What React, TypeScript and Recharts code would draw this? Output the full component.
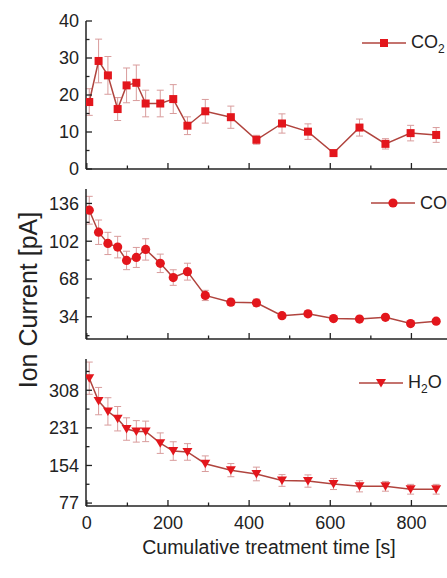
import React from 'react';
import { LineChart, Line, XAxis, YAxis, ErrorBar, Legend } from 'recharts';

// cumulative treatment time [s]
const TIME = [6, 29, 52, 76, 98, 122, 145, 181, 213, 248, 292, 355, 418, 481, 545, 608, 672, 736, 798, 861];

const CO2 = [18.1, 29.2, 25.3, 16.2, 22.6, 23.3, 17.7, 17.7, 18.9, 11.7, 15.6, 14.0, 7.9, 12.3, 10.1, 4.3, 11.2, 6.8, 9.7, 9.2];
const CO2_ERR = [3.6, 5.9, 5.1, 3.1, 4.7, 4.8, 3.6, 3.6, 3.9, 2.4, 3.2, 3.0, 1.2, 2.6, 2.1, 0.6, 2.3, 1.4, 2.1, 2.0];

const CO = [129.9, 110.1, 100, 96.7, 84.7, 87.4, 94.6, 82.1, 69.3, 74.6, 53.2, 47.1, 46.6, 35, 36.7, 32.4, 31.9, 33.5, 27.9, 30];
const CO_ERR = [12.5, 11, 10, 9.7, 8.3, 9, 9.6, 8.3, 7, 7.6, 4.6, 3, 3.3, 2.4, 2.6, 2, 2, 2, 2, 2];

const H2O = [332.7, 285.8, 264.7, 249.7, 228.6, 223.8, 223.8, 199.7, 183.5, 181.7, 157.6, 144.4, 136.6, 123.3, 122.1, 116.1, 111.3, 111.3, 105.3, 105.3];
const H2O_ERR = [33, 28, 28, 25, 23, 22, 21, 21, 19, 17, 16, 13.5, 14, 12, 12.6, 11.4, 11.4, 10, 10, 10];

const X_TICKS = [0, 100, 200, 300, 400, 500, 600, 700, 800, 900];
const X_LABELS = [0, 200, 400, 600, 800];

const CO2_TICKS = [0, 5, 10, 15, 20, 25, 30, 35, 40];
const CO2_LABELS = [0, 10, 20, 30, 40];
const CO_TICKS = [17, 34, 51, 68, 85, 102, 119, 136];
const CO_LABELS = [34, 68, 102, 136];
const H2O_TICKS = [77, 115.5, 154, 192.5, 231, 269.5, 308, 346.5];
const H2O_LABELS = [77, 154, 231, 308];

const rows = TIME.map((t, i) => ({
  t,
  co2: CO2[i], co2e: CO2_ERR[i],
  co: CO[i], coe: CO_ERR[i],
  h2o: H2O[i], h2oe: H2O_ERR[i],
}));

const FONT = '"Liberation Sans", Arial, sans-serif';
const AXIS = '#222';
const LINE = '#b0443e';
const MARK = '#e3161c';
const ERR = '#d99c9c';
const CHART_W = 452;
const PAD = 10;

const square = (cx: number, cy: number, key?: any) => (
  <rect key={key} x={cx - 4} y={cy - 4} width={8} height={8} fill={MARK} />
);
const circle = (cx: number, cy: number, key?: any) => (
  <circle key={key} cx={cx} cy={cy} r={4.6} fill={MARK} />
);
const triangle = (cx: number, cy: number, key?: any) => (
  <path key={key} d={`M${cx - 5},${cy - 4} L${cx + 5},${cy - 4} L${cx},${cy + 4.5} Z`} fill={MARK} />
);

const XTick = (props: any) => {
  const { x, y, payload, showLabel } = props;
  const v = payload.value;
  const major = v % 200 === 0;
  return (
    <g>
      <line x1={x} x2={x} y1={y} y2={y - (major ? 6 : 3.5)} stroke={AXIS} strokeWidth={1.3} />
      {showLabel && X_LABELS.includes(v) && (
        <text x={x} y={y + 23} textAnchor="middle" fontSize={18} fontFamily={FONT} fill={AXIS}>{v}</text>
      )}
    </g>
  );
};

const makeYTick = (labels: number[]) => (props: any) => {
  const { x, y, payload } = props;
  const major = labels.includes(payload.value);
  return (
    <g>
      <line x1={x} x2={x + (major ? 6 : 3.5)} y1={y} y2={y} stroke={AXIS} strokeWidth={1.3} />
      {major && (
        <text x={x - 7} y={y} dy={6.3} textAnchor="end" fontSize={18} fontFamily={FONT} fill={AXIS}>{payload.value}</text>
      )}
    </g>
  );
};

const LegendRow = ({ marker, label }: { marker: (cx: number, cy: number) => React.ReactNode; label: React.ReactNode }) => (
  <div style={{ display: 'flex', alignItems: 'center', height: 20, fontFamily: FONT, fontSize: 18, color: AXIS, whiteSpace: 'nowrap' }}>
    <svg width={44} height={12} style={{ display: 'block' }}>
      <line x1={0} x2={44} y1={6} y2={6} stroke={LINE} strokeWidth={1.5} />
      {marker(22, 6)}
    </svg>
    <span style={{ marginLeft: 5, lineHeight: '20px' }}>{label}</span>
  </div>
);

type PanelProps = {
  dataKey: string;
  errKey: string;
  top: number;
  bottom: number;
  domain: [number, number];
  ticks: number[];
  labels: number[];
  marker: (cx: number, cy: number, key?: any) => React.ReactElement;
  legend: React.ReactNode;
  legendLeft: number;
  legendY: number;
  last?: boolean;
  first?: boolean;
};

const Panel = (p: PanelProps) => {
  const xh = p.last ? 578 - p.bottom : PAD;
  const divTop = p.top - PAD;
  const h = p.bottom - p.top + PAD + xh;
  return (
    <div style={{ position: 'absolute', left: 0, top: divTop }}>
      <LineChart width={CHART_W} height={h} data={rows} margin={{ top: PAD, right: 0, bottom: 0, left: 0 }}>
        {p.first && (
          <XAxis xAxisId="top" orientation="top" type="number" dataKey="t" domain={[-2, 900]} allowDataOverflow
            height={0} tick={false} tickLine={false} axisLine={{ stroke: AXIS, strokeWidth: 1.5 }} />
        )}
        <XAxis
          type="number"
          dataKey="t"
          domain={[-2, 900]}
          allowDataOverflow
          ticks={X_TICKS}
          interval={0}
          height={xh}
          tickSize={0}
          tickMargin={0}
          tickLine={false}
          axisLine={{ stroke: AXIS, strokeWidth: 1.5 }}
          tick={<XTick showLabel={!!p.last} />}
          label={p.last ? {
            value: 'Cumulative treatment time [s]',
            position: 'insideBottom',
            offset: 4,
            style: { fontSize: 19.5, fontFamily: FONT, fill: AXIS },
          } : undefined}
        />
        <YAxis
          type="number"
          domain={p.domain}
          allowDataOverflow
          ticks={p.ticks}
          interval={0}
          width={86}
          tickSize={0}
          tickMargin={0}
          tickLine={false}
          axisLine={{ stroke: AXIS, strokeWidth: 1.5 }}
          tick={makeYTick(p.labels)}
        />
        <Line
          dataKey={p.dataKey}
          stroke={LINE}
          strokeWidth={1.5}
          isAnimationActive={false}
          dot={(d: any) => p.marker(d.cx, d.cy, d.index)}
          activeDot={false}
        >
          <ErrorBar dataKey={p.errKey} direction="y" width={3.5} stroke={ERR} strokeWidth={1} isAnimationActive={false} />
        </Line>
        <Legend
          wrapperStyle={{ position: 'absolute', left: p.legendLeft, top: p.legendY - 10 - divTop, width: 'auto' }}
          content={() => <LegendRow marker={p.marker} label={p.legend} />}
        />
      </LineChart>
    </div>
  );
};

const sub = (s: string) => (
  <span style={{ fontSize: 12, position: 'relative', top: 5 }}>{s}</span>
);

export default function App() {
  return (
    <div style={{ position: 'absolute', left: 0, top: 0, width: 447, height: 578, overflow: 'hidden', background: '#fff' }}>
      <Panel first dataKey="co2" errKey="co2e" top={21} bottom={189} domain={[0, 40]} ticks={CO2_TICKS} labels={CO2_LABELS}
        marker={square} legend={<>CO{sub('2')}</>} legendLeft={362} legendY={43} />
      <Panel dataKey="co" errKey="coe" top={189} bottom={359} domain={[14, 149]} ticks={CO_TICKS} labels={CO_LABELS}
        marker={circle} legend={<>CO</>} legendLeft={371} legendY={203} />
      <Panel last dataKey="h2o" errKey="h2oe" top={359} bottom={526} domain={[71, 372]} ticks={H2O_TICKS} labels={H2O_LABELS}
        marker={triangle} legend={<>H{sub('2')}O</>} legendLeft={359} legendY={383} />
      <div style={{
        position: 'absolute', left: 27.5, top: 300, transform: 'translate(-50%, -50%) rotate(-90deg)',
        whiteSpace: 'nowrap', fontFamily: FONT, fontSize: 25, color: AXIS,
      }}>
        Ion Current [pA]
      </div>
    </div>
  );
}
